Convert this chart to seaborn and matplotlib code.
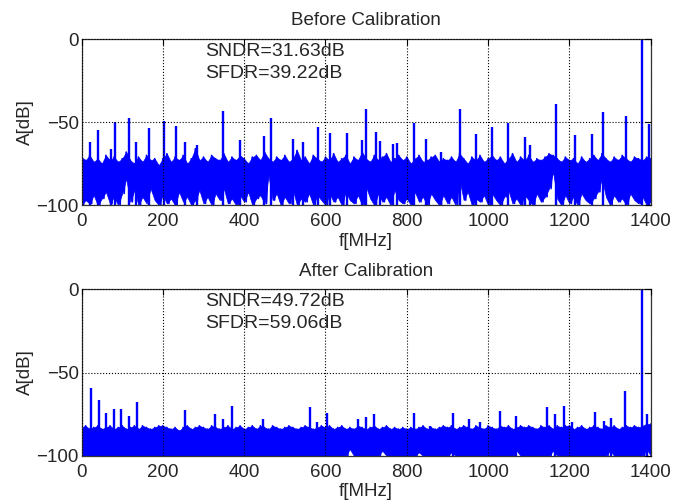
import numpy as np
import pandas as pd
import matplotlib
matplotlib.use("Agg")
import matplotlib.pyplot as plt
import seaborn as sns

# noise floor, one value every 10 MHz (0..1400)
top_before = [
    -71, -73, -70, -74, -72, -75, -70, -73, -71, -74,
    -72, -68, -73, -75, -71, -74, -70, -73, -72, -76,
    -72, -69, -74, -71, -73, -70, -75, -72, -66, -73,
    -71, -74, -70, -72, -73, -69, -74, -71, -73, -70,
    -72, -75, -71, -70, -73, -68, -72, -74, -71, -73,
    -70, -74, -72, -67, -73, -71, -75, -70, -72, -74,
    -71, -73, -69, -74, -72, -70, -75, -71, -73, -68,
    -72, -74, -70, -73, -71, -69, -74, -72, -70, -73,
    -71, -75, -72, -70, -74, -73, -71, -70, -74, -72,
    -73, -71, -74, -69, -72, -75, -71, -73, -70, -74,
    -72, -70, -73, -71, -75, -72, -69, -74, -71, -73,
    -70, -74, -72, -73, -71, -69, -70, -72, -74, -71,
    -73, -72, -75, -71, -74, -72, -70, -73, -69, -72,
    -74, -71, -73, -70, -72, -74, -71, -72, -73, -71,
    -72,
]
bot_before = [
    -100, -97, -99, -94, -100, -96, -92, -99, -95, -100,
    -93, -84, -98, -91, -100, -95, -99, -90, -97, -100,
    -94, -99, -96, -100, -92, -98, -95, -100, -97, -91,
    -99, -95, -100, -93, -97, -90, -99, -96, -100, -94,
    -98, -92, -100, -96, -94, -99, -82, -97, -93, -100,
    -95, -99, -91, -100, -96, -98, -93, -100, -94, -97,
    -100, -93, -98, -95, -100, -92, -97, -99, -94, -100,
    -89, -96, -100, -93, -98, -95, -100, -91, -97, -99,
    -96, -100, -92, -98, -95, -100, -93, -97, -100, -94,
    -99, -95, -100, -85, -97, -92, -100, -96, -98, -94,
    -100, -93, -97, -100, -95, -91, -99, -96, -100, -94,
    -97, -100, -93, -98, -95, -90, -80, -96, -100, -94,
    -99, -95, -100, -93, -97, -99, -96, -92, -84, -95,
    -100, -94, -98, -96, -100, -93, -97, -99, -95, -100,
    -98,
]
top_after = [
    -83, -82, -84, -83, -82, -84, -83, -82, -84, -83,
    -82, -84, -83, -82, -84, -82, -83, -84, -83, -82,
    -82, -83, -84, -83, -85, -83, -82, -84, -83, -82,
    -83, -84, -82, -83, -84, -83, -82, -84, -83, -82,
    -84, -83, -82, -84, -82, -83, -84, -82, -83, -84,
    -83, -82, -83, -84, -83, -82, -83, -84, -83, -82,
    -83, -82, -84, -83, -82, -84, -83, -84, -82, -83,
    -84, -83, -82, -84, -83, -82, -84, -83, -84, -83,
    -84, -83, -84, -83, -82, -84, -83, -84, -83, -82,
    -83, -82, -84, -83, -82, -83, -84, -82, -83, -84,
    -82, -83, -84, -82, -83, -82, -84, -83, -82, -83,
    -82, -83, -84, -82, -83, -82, -84, -82, -83, -82,
    -82, -84, -83, -82, -84, -83, -82, -83, -84, -82,
    -83, -82, -84, -83, -82, -83, -82, -83, -82, -81,
    -81,
]
bot_after = [
    -100, -100, -100, -100, -100, -100, -100, -100, -100, -100,
    -100, -100, -100, -100, -100, -100, -100, -100, -100, -100,
    -100, -100, -100, -100, -100, -100, -100, -100, -100, -100,
    -100, -100, -100, -100, -100, -100, -100, -100, -100, -100,
    -100, -100, -100, -100, -100, -100, -100, -100, -100, -100,
    -100, -100, -100, -100, -100, -100, -100, -100, -100, -100,
    -100, -100, -100, -100, -100, -100, -96, -100, -100, -100,
    -100, -100, -100, -100, -97, -100, -100, -100, -100, -100,
    -100, -100, -100, -98, -100, -100, -100, -100, -100, -100,
    -100, -98, -100, -100, -100, -100, -100, -100, -100, -100,
    -100, -100, -100, -100, -100, -100, -100, -97, -100, -100,
    -100, -100, -100, -100, -100, -100, -97, -100, -100, -100,
    -100, -100, -100, -100, -100, -100, -100, -100, -100, -100,
    -97, -100, -100, -100, -100, -100, -100, -100, -100, -96,
    -100,
]

# spurs (frequency in MHz, level in dB)
spur_f_before = [20, 41, 72, 82, 116, 135, 166, 203, 233, 255, 284, 349, 390, 450, 466,
                 520, 545, 582, 610, 653, 690, 700, 724, 735, 765, 776, 817, 848, 883,
                 932, 971, 1009, 1050, 1091, 1103, 1166, 1215, 1255, 1283, 1339, 1378, 1397]
spur_db_before = [-62, -54.5, -66, -50, -47.6, -62, -53.6, -49, -52, -62, -63.7, -43.3, -61, -58.5, -47.6,
                  -60, -62, -52.6, -56.7, -56.7, -60.7, -42, -56, -61.5, -63, -62.5, -50.2, -60, -68,
                  -42, -57, -52.6, -50.2, -59, -63.5, -39, -57.6, -57, -44, -46, 0, -51]

spur_f_after = [23, 43, 60, 80, 96, 117, 137, 255, 329, 349, 370, 446, 561, 579, 604, 680,
                700, 720, 817, 858, 913, 953, 981, 1029, 1069, 1144, 1165, 1187, 1207, 1262,
                1284, 1302, 1337, 1378, 1390]
spur_db_after = [-59, -66.5, -74.4, -72, -72, -76.4, -67.8, -72.8, -75.2, -78, -70.2, -78, -70.7, -80, -74.4, -78,
                 -77, -75.2, -74.6, -82, -74.6, -78, -80, -73.2, -76.4, -70.5, -75, -70, -79.5, -73.8,
                 -79, -77.5, -61, 0, -75]

titles = ["Before Calibration", "After Calibration"]
sndr = ["SNDR=31.63dB", "SNDR=49.72dB"]
sfdr = ["SFDR=39.22dB", "SFDR=59.06dB"]

freq = np.arange(0, 1401, 10)

sns.set_style("white")
plt.rcParams["font.family"] = ["Liberation Sans", "DejaVu Sans"]

fig = plt.figure(figsize=(6.89, 5.04), dpi=100)
ax1 = fig.add_axes([0.1183, 0.593, 0.8261, 0.329])
ax2 = fig.add_axes([0.1183, 0.0958, 0.8261, 0.330])

panels = [
    (ax1, top_before, bot_before, spur_f_before, spur_db_before),
    (ax2, top_after, bot_after, spur_f_after, spur_db_after),
]

for i, (ax, top, bot, sf, sdb) in enumerate(panels):
    top = np.array(top)
    bot = np.array(bot)
    # zigzag between the floor peaks and dips, like a dense FFT trace
    zx = np.column_stack([freq, freq + 5]).ravel()
    zy = np.column_stack([top, bot]).ravel()
    df = pd.DataFrame({"f": zx, "A": zy})
    ax.fill_between(freq, bot, top, color="#0000ff", lw=0.5)
    sns.lineplot(data=df, x="f", y="A", ax=ax, color="#0000ff", lw=1.2,
                 estimator=None, sort=False)
    ax.vlines(sf, -100, sdb, color="#0000ff", lw=1.7)

    ax.set_xlim(0, 1400)
    ax.set_ylim(-100, 0)
    ax.set_xticks(range(0, 1401, 200))
    ax.set_yticks([-100, -50, 0])
    ax.grid(True, color="black", linestyle=":", linewidth=0.8)
    ax.set_axisbelow(False)
    ax.tick_params(direction="in", length=4, labelsize=13.5, top=True, right=True,
                   color="black")
    ax.tick_params(axis="x", pad=6)
    ax.tick_params(axis="y", pad=2)
    for s in ax.spines.values():
        s.set_color("#333333")
        s.set_linewidth(0.9)
    ax.set_xlabel("f[MHz]", fontsize=13.5, labelpad=1.5)
    ax.set_ylabel("A[dB]", fontsize=13.5, labelpad=2)
    ax.set_title(titles[i], fontsize=13.5, pad=10)
    ax.text(305, -7.5, sndr[i], fontsize=14, va="center", ha="left")
    ax.text(305, -20.6, sfdr[i], fontsize=14, va="center", ha="left")

fig.savefig("out.png", dpi=100)
